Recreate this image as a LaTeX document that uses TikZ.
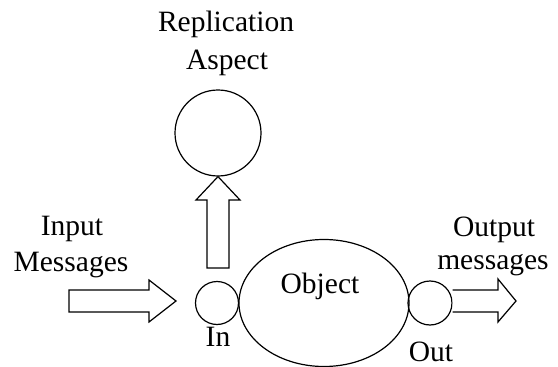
\documentclass[tikz,border=0pt]{standalone}
\usepackage{fontspec}
\setmainfont{Liberation Serif}
\usetikzlibrary{shapes.geometric}
\begin{document}
\begin{tikzpicture}[x=1pt,y=-1pt,
  lbl/.style={anchor=base,inner sep=0pt,font=\fontsize{29.5}{36}\selectfont},
  ring/.style={draw,line width=1.2pt,circle,inner sep=0pt},
  blockarrow/.style={draw,line width=1.2pt,line join=miter,fill=white}]
\useasboundingbox (0,0) rectangle (558,367);
% nodes
\node[ring,minimum size=86pt] (rep) at (218,133) {};
\node[ring,minimum size=43pt] (in) at (217,303) {};
\node[draw,line width=1.2pt,ellipse,minimum width=170pt,minimum height=127pt,inner sep=0pt] (obj) at (324,303) {};
\node[ring,minimum size=44pt] (out) at (430,303) {};
% texts
\node[lbl] (t1) at (226,31) {Replication};
\node[lbl] (t2) at (227,69) {Aspect};
\node[lbl] (t3) at (72,235) {Input};
\node[lbl] (t4) at (71,271) {Messages};
\node[lbl] (t5) at (494,236) {Output};
\node[lbl] (t6) at (493,269) {messages};
\node[lbl] (t7) at (320,293) {Object};
\node[lbl] (t8) at (218,346) {In};
\node[lbl] (t9) at (431,361) {Out};
% up arrow (from In circle to Replication aspect)
\draw[blockarrow] (207,268) -- (207,200) -- (196,200) -- (rep.south) -- (240,200) -- (229,200) -- (229,268) -- cycle;
% input arrow
\coordinate (inTip) at (176,301);
\draw[blockarrow] (69,290) -- (149,290) -- (149,280) -- (inTip) -- (149,322) -- (149,312) -- (69,312) -- cycle;
% output arrow
\coordinate (outTip) at (516,301);
\draw[blockarrow] (out.east |- 0,290) -- (498,290) -- (498,279) -- (outTip) -- (498,322) -- (498,312) -- (out.east |- 0,312);
\end{tikzpicture}
\end{document}
